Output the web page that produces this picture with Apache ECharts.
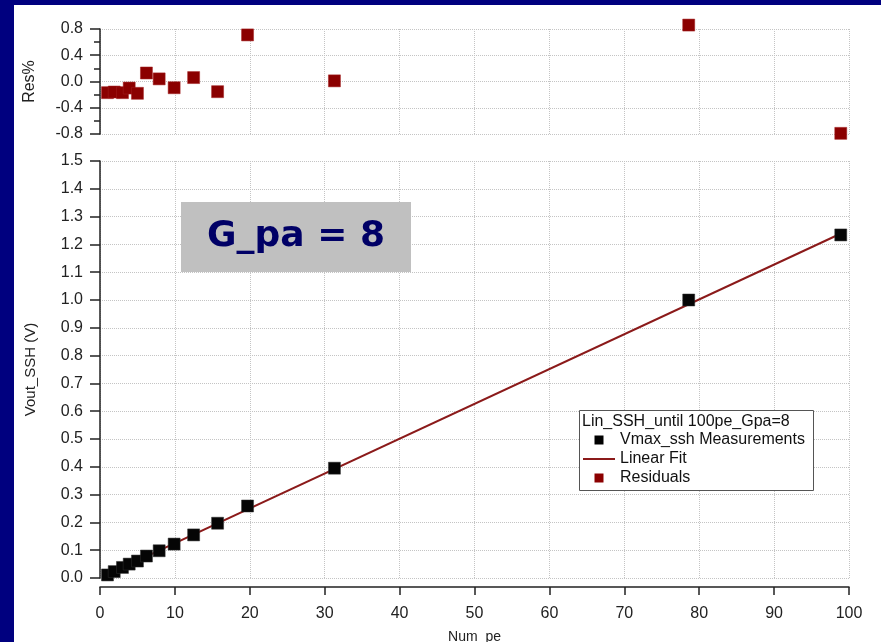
<!DOCTYPE html>
<html>
<head>
<meta charset="utf-8">
<script src="https://cdn.jsdelivr.net/npm/echarts@6/dist/echarts.min.js"></script>
<style>html,body{margin:0;padding:0;background:#00007f;}#c{width:881px;height:642px;}</style>
</head>
<body>
<div id="c"></div>
<script>
// Data
var pe    = [1.0, 1.9, 3.0, 3.9, 5.0, 6.2, 7.9, 9.9, 12.5, 15.7, 19.7, 31.3, 78.6, 98.9];
var vout  = [0.011, 0.023, 0.038, 0.050, 0.061, 0.079, 0.098, 0.122, 0.155, 0.197, 0.259, 0.395, 1.000, 1.234];
var resPct = [-0.17, -0.16, -0.17, -0.10, -0.18, 0.13, 0.04, -0.095, 0.06, -0.155, 0.71, 0.01, 0.86, -0.79];
var fitX  = [0.9, 99.0];
var fitY  = [0.011, 1.240];
var xTicks = [0, 10, 20, 30, 40, 50, 60, 70, 80, 90, 100];
var seriesNames = ['Vmax_ssh Measurements', 'Linear Fit', 'Residuals'];
var legendTitle = 'Lin_SSH_until 100pe_Gpa=8';
var boxLabel = 'G_pa = 8';

var FONT = '"Liberation Sans", Arial, sans-serif';
var gridLine = {show: true, lineStyle: {color: '#c4c4c4', type: 'dotted', width: 1}};
var axLine = {show: true, lineStyle: {color: '#222', width: 1.5}};

var measData = pe.map(function (x, i) { return [x, vout[i]]; });
var resData = pe.map(function (x, i) { return [x, resPct[i]]; });
var fitData = fitX.map(function (x, i) { return [x, fitY[i]]; });

var chart = echarts.init(document.getElementById('c'), null, {renderer: 'canvas'});
chart.setOption({
  backgroundColor: '#00007f',
  animation: false,
  textStyle: {fontFamily: FONT},
  grid: [
    {left: 100, right: 32, top: 29, height: 105, outerBoundsMode: 'none', containLabel: false},
    {left: 100, right: 32, top: 161, height: 417, outerBoundsMode: 'none', containLabel: false}
  ],
  xAxis: [
    {gridIndex: 0, type: 'value', position: 'bottom', min: xTicks[0], max: xTicks[xTicks.length - 1], interval: 10,
     axisLine: {show: false}, axisTick: {show: false}, axisLabel: {show: false}, splitLine: gridLine},
    {gridIndex: 1, type: 'value', position: 'bottom', offset: 9, min: xTicks[0], max: xTicks[xTicks.length - 1], interval: 10,
     axisLine: {show: true, onZero: false, lineStyle: {color: '#222', width: 1.5}},
     axisTick: {show: true, length: 8, lineStyle: {color: '#222', width: 1.5}},
     axisLabel: {color: '#222', fontSize: 16, margin: 19, fontFamily: FONT},
     splitLine: gridLine,
     name: 'Num_pe', nameLocation: 'middle', nameGap: 43,
     nameTextStyle: {color: '#222', fontSize: 14, fontFamily: FONT}}
  ],
  yAxis: [
    {gridIndex: 0, type: 'value', min: -0.8, max: 0.8, interval: 0.4,
     axisLine: axLine,
     axisTick: {show: true, length: 10, lineStyle: {color: '#222', width: 1.5}},
     minorTick: {show: true, splitNumber: 2, length: 6, lineStyle: {color: '#222', width: 1.5}},
     axisLabel: {color: '#222', fontSize: 16, margin: 17, fontFamily: FONT,
       formatter: function (v) { return v.toFixed(1); }},
     splitLine: gridLine,
     name: 'Res%', nameLocation: 'middle', nameGap: 62,
     nameTextStyle: {color: '#222', fontSize: 16, fontFamily: FONT}},
    {gridIndex: 1, type: 'value', min: 0, max: 1.5, interval: 0.1,
     axisLine: axLine,
     axisTick: {show: true, length: 10, lineStyle: {color: '#222', width: 1.5}},
     axisLabel: {color: '#222', fontSize: 16, margin: 17, fontFamily: FONT,
       formatter: function (v) { return v.toFixed(1); }},
     splitLine: gridLine,
     name: 'Vout_SSH (V)', nameLocation: 'middle', nameGap: 62,
     nameTextStyle: {color: '#222', fontSize: 15, fontFamily: FONT}}
  ],
  legend: {
    orient: 'vertical', left: 583, top: 432, padding: 0, itemGap: 3,
    itemWidth: 32, itemHeight: 10, z: 20,
    itemStyle: {borderWidth: 0},
    textStyle: {color: '#111', fontSize: 16, fontFamily: FONT},
    data: [
      {name: seriesNames[0], icon: 'path://M0,0M32,10M11.5,0.5h9v9h-9z', itemStyle: {color: '#000', borderWidth: 0}},
      {name: seriesNames[1], icon: 'path://M0,0M32,10M0,4h32v2h-32z', itemStyle: {color: '#8b1a1a', borderWidth: 0}},
      {name: seriesNames[2], icon: 'path://M0,0M32,10M11.5,0.5h9v9h-9z', itemStyle: {color: '#8b0000', borderWidth: 0}}
    ]
  },
  graphic: [
    {type: 'rect', z: -100, silent: true, shape: {x: 14, y: 5, width: 867, height: 637}, style: {fill: '#ffffff'}},
    {type: 'rect', z: 50, shape: {x: 181, y: 202, width: 230, height: 70}, style: {fill: '#c0c0c0'}},
    {type: 'text', z: 51, x: 296, y: 237,
     style: {text: boxLabel, fill: '#000066', font: 'bold 36px "DejaVu Sans", sans-serif', align: 'center', verticalAlign: 'middle'}},
    {type: 'rect', z: 5, shape: {x: 579.5, y: 410.5, width: 234, height: 80}, style: {fill: '#ffffff', stroke: '#555', lineWidth: 1}},
    {type: 'text', z: 21, x: 582, y: 422,
     style: {text: legendTitle, fill: '#111', font: '16px ' + FONT, align: 'left', verticalAlign: 'middle'}}
  ],
  series: [
    {name: seriesNames[1], type: 'line', xAxisIndex: 1, yAxisIndex: 1, data: fitData,
     symbol: 'none', lineStyle: {color: '#8b1a1a', width: 2}, itemStyle: {color: '#8b1a1a'}, z: 3},
    {name: seriesNames[0], type: 'scatter', xAxisIndex: 1, yAxisIndex: 1, data: measData,
     symbol: 'rect', symbolSize: 12, itemStyle: {color: '#050505', opacity: 1, borderColor: '#333', borderWidth: 0.5}, z: 4},
    {name: seriesNames[2], type: 'scatter', xAxisIndex: 0, yAxisIndex: 0, data: resData, clip: false,
     symbol: 'rect', symbolSize: 12, itemStyle: {color: '#8b0000', opacity: 1, borderColor: '#a52020', borderWidth: 0.5}, z: 4}
  ]
});
</script>
</body>
</html>
